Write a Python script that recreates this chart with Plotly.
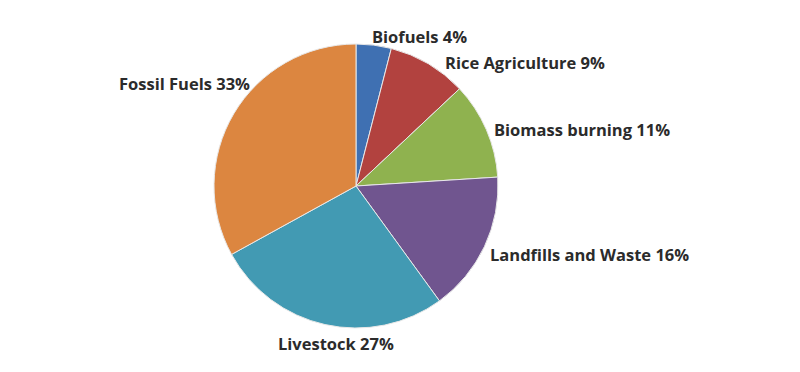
import plotly.graph_objects as go

labels = ["Biofuels", "Rice Agriculture", "Biomass burning", "Landfills and Waste", "Livestock", "Fossil Fuels"]
values = [4, 9, 11, 16, 27, 33]
colors = ["#3f70b2", "#b2423f", "#8fb24f", "#70558f", "#429ab3", "#dc8640"]

W, H = 800, 372
OFF = 8  # page body margin offset
cx, cy, r = 356 - OFF, 186 - OFF, 142

fig = go.Figure(go.Pie(
    labels=labels, values=values, sort=False, direction="clockwise", rotation=0,
    marker=dict(colors=colors, line=dict(color="#e8e8e8", width=1)),
    textinfo="none", hoverinfo="label+percent", showlegend=False,
    domain=dict(x=[(cx - r) / W, (cx + r) / W], y=[(H - cy - r) / H, (H - cy + r) / H]),
))

# label anchor positions (left x, center y) in page pixels
label_pos = [(370, 36), (443, 63), (492, 130), (488, 254), (276, 343), (117, 83)]
for lab, v, (x, y) in zip(labels, values, label_pos):
    fig.add_annotation(
        x=(x - OFF) / W, y=1 - (y - OFF) / H, xref="paper", yref="paper",
        xanchor="left", yanchor="middle", showarrow=False,
        text=f"{lab} {v}%",
        font=dict(family="Open Sans", size=16.5, color="#2b2b2b", weight="bold"),
    )

fig.update_layout(
    width=W, height=H, margin=dict(l=0, r=0, t=0, b=0),
    paper_bgcolor="white", plot_bgcolor="white",
)
fig.write_html("out.html")
